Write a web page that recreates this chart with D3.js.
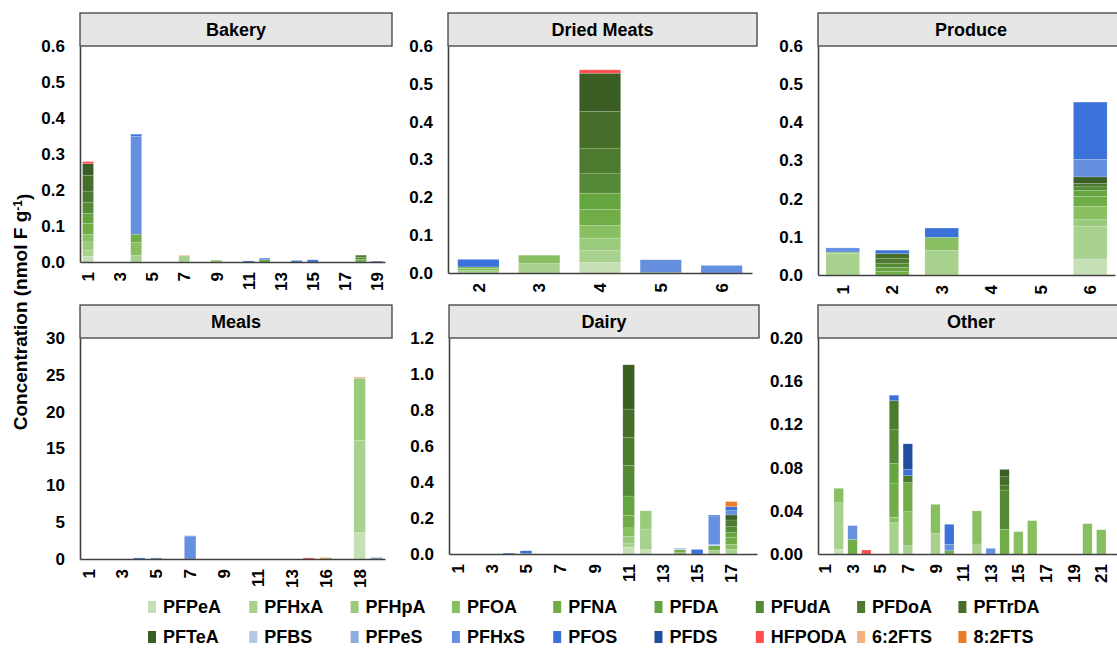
<!DOCTYPE html>
<html>
<head>
<meta charset="utf-8">
<script src="https://cdn.jsdelivr.net/npm/d3@7"></script>
<style>
  html, body { margin: 0; padding: 0; background: #ffffff; }
  svg text { font-family: "Liberation Sans", Arial, sans-serif; font-weight: bold; fill: #000; }
</style>
</head>
<body>
<svg id="chart" width="1117" height="649"></svg>
<script>
// PFAS compounds in stacking order (bottom to top) and their fill colours
const compounds = ["PFPeA", "PFHxA", "PFHpA", "PFOA", "PFNA", "PFDA", "PFUdA", "PFDoA", "PFTrDA",
                   "PFTeA", "PFBS", "PFPeS", "PFHxS", "PFOS", "PFDS", "HFPODA", "6:2FTS", "8:2FTS"];
const compoundColors = ["#c5e0b4", "#a9d18e", "#9acb7c", "#88bf60", "#70ad47", "#65a540", "#548a36", "#4c7a2f", "#466e2a",
                        "#3a5e24", "#b4c7e7", "#8faadc", "#6590e0", "#3b72d9", "#1f4da0", "#ff4f4f", "#f4b183", "#e97d2a"];

// Sample identifiers per food group
const bakeryCategories = ["1","2","3","4","5","6","7","8","9","10","11","12","13","14","15","16","17","18","19"];
const driedMeatCategories = ["2","3","4","5","6"];
const produceCategories = ["1","2","3","4","5","6"];
const mealCategories = ["1","2","3","4","5","6","7","8","9","10","11","12","13","15","16","17","18","19"];
const dairyCategories = ["1","2","3","4","5","6","7","8","9","10","11","12","13","14","15","16","17","18"];
const otherCategories = ["1","2","3","4","5","6","7","8","9","10","11","12","13","14","15","16","17","18","19","20","21","22"];

// Concentrations (nmol F/g) as [sample, compound, value]
const bakeryValues = [
  ["1","PFPeA",0.016],["1","PFHxA",0.017],["1","PFHpA",0.023],["1","PFOA",0.021],["1","PFNA",0.030],
  ["1","PFDA",0.028],["1","PFUdA",0.030],["1","PFDoA",0.032],["1","PFTrDA",0.044],["1","PFTeA",0.032],["1","HFPODA",0.006],
  ["4","PFHxA",0.018],["4","PFOA",0.037],["4","PFNA",0.022],["4","PFHxS",0.272],["4","PFOS",0.006],
  ["7","PFHxA",0.017],["7","6:2FTS",0.002],
  ["9","PFOA",0.003],["9","PFNA",0.002],
  ["11","PFOS",0.003],
  ["12","PFDA",0.006],["12","PFHxS",0.005],
  ["14","PFOS",0.004],
  ["15","PFOS",0.006],
  ["18","PFNA",0.007],["18","PFUdA",0.006],["18","PFDoA",0.006],
  ["19","PFDS",0.002]
];
const driedMeatValues = [
  ["2","PFHxA",0.006],["2","PFOA",0.006],["2","PFNA",0.004],["2","PFOS",0.020],
  ["3","PFHxA",0.025],["3","PFOA",0.022],
  ["4","PFPeA",0.028],["4","PFHxA",0.031],["4","PFHpA",0.033],["4","PFOA",0.034],["4","PFNA",0.042],
  ["4","PFDA",0.043],["4","PFUdA",0.053],["4","PFDoA",0.066],["4","PFTrDA",0.097],["4","PFTeA",0.101],["4","HFPODA",0.009],
  ["5","PFNA",0.002],["5","PFHxS",0.033],
  ["6","PFHxS",0.020]
];
const produceValues = [
  ["1","PFHxA",0.057],["1","PFOA",0.003],["1","PFHxS",0.011],
  ["2","PFNA",0.009],["2","PFDA",0.011],["2","PFUdA",0.011],["2","PFDoA",0.012],["2","PFTrDA",0.013],["2","PFOS",0.009],
  ["3","PFHxA",0.065],["3","PFOA",0.034],["3","PFOS",0.024],
  ["6","PFPeA",0.042],["6","PFHxA",0.086],["6","PFHpA",0.017],["6","PFOA",0.035],["6","PFNA",0.026],
  ["6","PFDA",0.016],["6","PFUdA",0.009],["6","PFDoA",0.009],["6","PFTeA",0.017],["6","PFHxS",0.046],["6","PFOS",0.150]
];
const mealValues = [
  ["4","PFOS",0.15],
  ["5","PFHxS",0.15],
  ["7","PFHxS",3.05],["7","PFOS",0.10],
  ["15","HFPODA",0.15],
  ["16","PFTeA",0.06],["16","8:2FTS",0.12],
  ["18","PFPeA",3.6],["18","PFHxA",12.5],["18","PFHpA",8.45],["18","6:2FTS",0.15],
  ["19","PFTeA",0.08],["19","PFOS",0.10]
];
const dairyValues = [
  ["4","PFOS",0.005],
  ["5","PFHxS",0.004],["5","PFOS",0.014],
  ["11","PFPeA",0.037],["11","PFHxA",0.024],["11","PFHpA",0.037],["11","PFOA",0.047],["11","PFNA",0.069],
  ["11","PFDA",0.108],["11","PFUdA",0.171],["11","PFDoA",0.154],["11","PFTrDA",0.158],["11","PFTeA",0.246],
  ["12","PFPeA",0.025],["12","PFHxA",0.110],["12","PFHpA",0.105],
  ["14","PFOA",0.008],["14","PFNA",0.015],["14","PFBS",0.004],["14","PFHxS",0.004],
  ["15","PFOS",0.025],
  ["16","PFHxA",0.022],["16","PFNA",0.024],["16","PFBS",0.007],["16","PFHxS",0.154],["16","PFOS",0.009],
  ["17","PFHxA",0.026],["17","PFOA",0.028],["17","PFNA",0.039],["17","PFDA",0.026],["17","PFUdA",0.033],
  ["17","PFDoA",0.037],["17","PFTeA",0.028],["17","PFHxS",0.024],["17","PFOS",0.022],["17","8:2FTS",0.028]
];
const otherValues = [
  ["2","PFPeA",0.0043],["2","PFHxA",0.0432],["2","PFOA",0.0133],
  ["3","PFNA",0.0136],["3","PFHxS",0.0127],
  ["4","HFPODA",0.0037],
  ["6","PFHxA",0.029],["6","PFOA",0.005],["6","PFNA",0.031],["6","PFDA",0.019],["6","PFUdA",0.031],["6","PFDoA",0.027],["6","PFOS",0.005],
  ["7","PFHxA",0.0077],["7","PFOA",0.0315],["7","PFNA",0.0269],["7","PFDoA",0.0065],["7","PFOS",0.0059],["7","PFDS",0.0235],
  ["9","PFHxA",0.019],["9","PFOA",0.027],
  ["10","PFNA",0.003],["10","PFHxS",0.006],["10","PFOS",0.0185],
  ["12","PFHxA",0.0093],["12","PFOA",0.0306],
  ["13","PFHxS",0.0052],
  ["14","PFNA",0.0228],["14","PFUdA",0.0364],["14","PFDoA",0.0046],["14","PFTrDA",0.0077],["14","PFTeA",0.0068],
  ["15","PFOA",0.0207],
  ["16","PFOA",0.0309],
  ["20","PFOA",0.0281],
  ["21","PFOA",0.0225]
];

// Y tick values per panel
const ticksBakery = [0, 0.1, 0.2, 0.3, 0.4, 0.5, 0.6];
const ticksDriedMeats = [0, 0.1, 0.2, 0.3, 0.4, 0.5, 0.6];
const ticksProduce = [0, 0.1, 0.2, 0.3, 0.4, 0.5, 0.6];
const ticksMeals = [0, 5, 10, 15, 20, 25, 30];
const ticksDairy = [0, 0.2, 0.4, 0.6, 0.8, 1.0, 1.2];
const ticksOther = [0, 0.04, 0.08, 0.12, 0.16, 0.20];

const yTitle = "Concentration (nmol F g";

// ---------------------------------------------------------------------------
const svg = d3.select("#chart");
const color = d3.scaleOrdinal().domain(compounds).range(compoundColors);
const AXIS = "#404040";
const HEADER_H = 33;

const panels = [
  { title: "Bakery",      cats: bakeryCategories,    vals: bakeryValues,    ticks: ticksBakery,     fmt: d3.format(".1f"), step: 2, x0: 80,  x1: 385,  top: 46,  base: 262, hx1: 392 },
  { title: "Dried Meats", cats: driedMeatCategories, vals: driedMeatValues, ticks: ticksDriedMeats, fmt: d3.format(".1f"), step: 1, x0: 448, x1: 752,  top: 46,  base: 273, hx1: 757 },
  { title: "Produce",     cats: produceCategories,   vals: produceValues,   ticks: ticksProduce,    fmt: d3.format(".1f"), step: 1, x0: 818, x1: 1115, top: 46,  base: 275, hx1: 1124 },
  { title: "Meals",       cats: mealCategories,      vals: mealValues,      ticks: ticksMeals,      fmt: d3.format("d"),   step: 2, x0: 80,  x1: 385,  top: 338, base: 559, hx1: 392 },
  { title: "Dairy",       cats: dairyCategories,     vals: dairyValues,     ticks: ticksDairy,      fmt: d3.format(".1f"), step: 2, x0: 449, x1: 757,  top: 338, base: 554, hx1: 759 },
  { title: "Other",       cats: otherCategories,     vals: otherValues,     ticks: ticksOther,      fmt: d3.format(".2f"), step: 2, x0: 818, x1: 1122, top: 338, base: 554, hx1: 1124 }
];

panels.forEach(p => {
  const g = svg.append("g");
  const x = d3.scaleBand().domain(p.cats).range([p.x0, p.x1]).paddingInner(0.32).paddingOuter(0.16);
  const y = d3.scaleLinear().domain([0, p.ticks[p.ticks.length - 1]]).range([p.base, p.top]);

  // one row per sample, every compound defaulting to zero
  const rows = p.cats.map(c => {
    const r = { sample: c };
    compounds.forEach(k => { r[k] = 0; });
    return r;
  });
  p.vals.forEach(([c, k, v]) => { rows[p.cats.indexOf(c)][k] = v; });
  const series = d3.stack().keys(compounds)(rows);

  // stacked bars
  g.append("g").selectAll("g").data(series).join("g")
    .attr("fill", s => color(s.key))
    .selectAll("rect").data(s => s.filter(d => d[1] - d[0] > 0)).join("rect")
      .attr("x", d => x(d.data.sample))
      .attr("width", x.bandwidth())
      .attr("y", d => y(d[1]))
      .attr("height", d => y(d[0]) - y(d[1]))
      .attr("stroke", "#ffffff")
      .attr("stroke-opacity", 0.3)
      .attr("stroke-width", 0.5);

  // header strip
  g.append("rect")
    .attr("x", p.x0).attr("y", p.top - HEADER_H)
    .attr("width", p.hx1 - p.x0).attr("height", HEADER_H)
    .attr("fill", "#e6e6e6").attr("stroke", AXIS).attr("stroke-width", 1.3);
  g.append("text")
    .attr("x", (p.x0 + p.hx1) / 2).attr("y", p.top - HEADER_H / 2)
    .attr("dy", "0.35em").attr("text-anchor", "middle")
    .style("font-size", "18px")
    .text(p.title);

  // y axis
  const ya = g.append("g").attr("transform", `translate(${p.x0},0)`)
    .call(d3.axisLeft(y).tickValues(p.ticks).tickFormat(p.fmt).tickSize(0).tickSizeOuter(0).tickPadding(15));
  ya.select(".domain").attr("stroke", AXIS).attr("stroke-width", 1.6);
  ya.selectAll("text").style("font-size", "17px").attr("fill", "#000");

  // x axis, rotated sample labels
  const labelled = p.cats.filter((c, i) => i % p.step === 0);
  const xa = g.append("g").attr("transform", `translate(0,${p.base})`)
    .call(d3.axisBottom(x).tickValues(labelled).tickSize(0).tickSizeOuter(0));
  xa.select(".domain").attr("stroke", AXIS).attr("stroke-width", 1.6);
  xa.selectAll("text")
    .attr("y", 0).attr("x", -10).attr("dy", "0.36em")
    .attr("transform", "rotate(-90)")
    .style("text-anchor", "end")
    .style("font-size", "17px")
    .attr("fill", "#000");
});

// shared y-axis title
const title = svg.append("text")
  .attr("transform", "translate(27,312) rotate(-90)")
  .attr("text-anchor", "middle")
  .style("font-size", "19px");
title.append("tspan").text(yTitle);
title.append("tspan").attr("dy", "-0.45em").style("font-size", "12px").text("-1");
title.append("tspan").attr("dy", "0.45em").text(")");

// legend: two rows of nine
const legend = svg.append("g");
const legendItems = legend.selectAll("g").data(compounds).join("g")
  .attr("transform", (d, i) => `translate(${148 + (i % 9) * 101.3},${607 + Math.floor(i / 9) * 30})`);
legendItems.append("rect")
  .attr("x", 0).attr("y", -6).attr("width", 8).attr("height", 12)
  .attr("fill", d => color(d));
legendItems.append("text")
  .attr("x", 15).attr("dy", "0.36em")
  .style("font-size", "18px")
  .text(d => d);
</script>
</body>
</html>
